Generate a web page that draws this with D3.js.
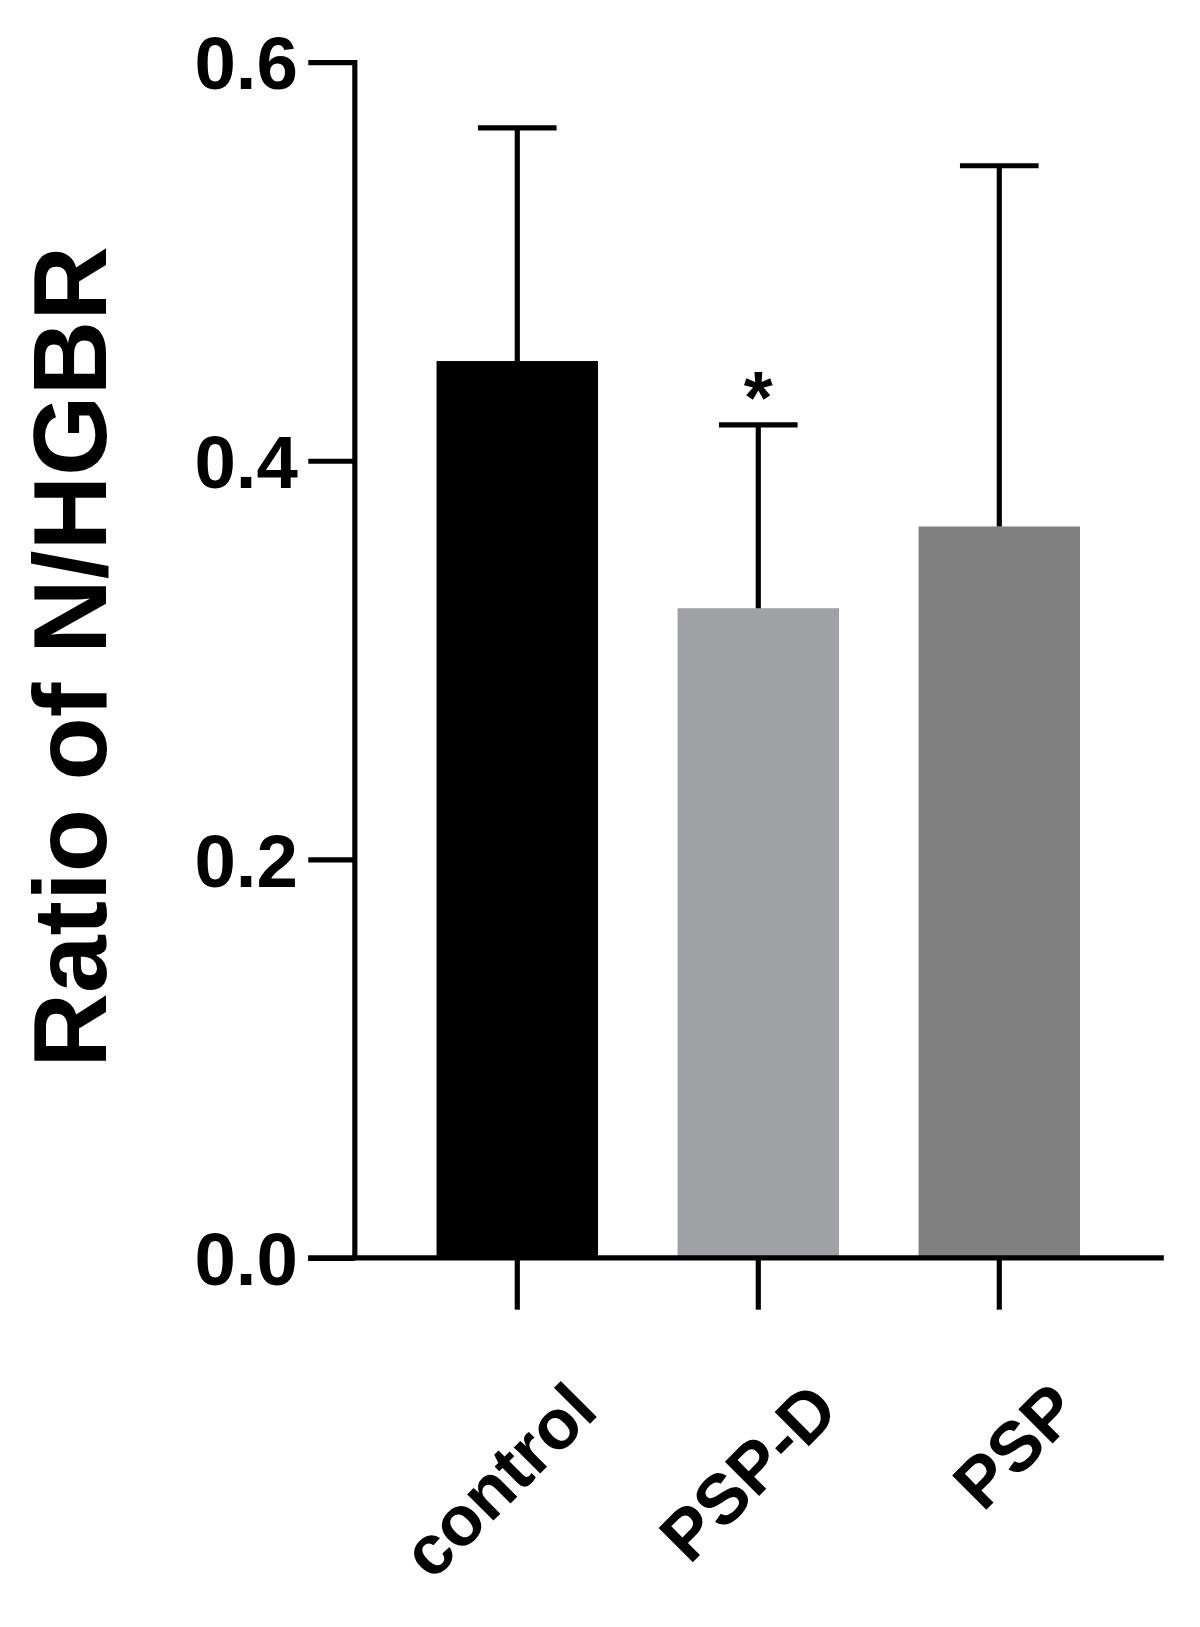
<!DOCTYPE html>
<html><head><meta charset="utf-8">
<script src="https://cdn.jsdelivr.net/npm/d3@7"></script>
<style>body{margin:0;background:#fff}</style></head>
<body><script>
// values
var groups = ["control", "PSP-D", "PSP"];
var means = [0.450, 0.326, 0.367];
var errTops = [0.567, 0.418, 0.548];
var colors = ["#000000", "#a0a1a5", "#808080"];
var yTicks = [0.0, 0.2, 0.4, 0.6];

var svg = d3.select("body").append("svg").attr("width", 1200).attr("height", 1627)
  .style("font-family", "Liberation Sans, Arial, sans-serif").style("font-weight", "bold");
var g = svg.append("g").attr("transform", "scale(1.0345)");

var y = d3.scaleLinear().domain([0, 0.6]).range([1216, 60]);
var x = d3.scaleBand().domain(groups).range([422, 1044]).paddingInner(0.33).paddingOuter(0);

g.selectAll("rect.bar").data(groups).enter().append("rect")
  .attr("x", function(d) { return x(d); })
  .attr("width", x.bandwidth())
  .attr("y", function(d, i) { return y(means[i]); })
  .attr("height", function(d, i) { return y(0) - y(means[i]); })
  .attr("fill", function(d, i) { return colors[i]; });

// error bars
groups.forEach(function(d, i) {
  var cx = x(d) + x.bandwidth() / 2;
  g.append("line").attr("x1", cx).attr("x2", cx).attr("y1", y(means[i])).attr("y2", y(errTops[i]))
    .attr("stroke", "#000").attr("stroke-width", 5);
  g.append("line").attr("x1", cx - 38).attr("x2", cx + 38).attr("y1", y(errTops[i])).attr("y2", y(errTops[i]))
    .attr("stroke", "#000").attr("stroke-width", 5);
});

g.append("text").attr("x", x("PSP-D") + x.bandwidth() / 2).attr("y", y(0.418) - 2)
  .attr("text-anchor", "middle").attr("font-size", 72).text("*");

// y axis
var yAxis = g.append("g").attr("transform", "translate(343,0)")
  .call(d3.axisLeft(y).tickValues(yTicks).tickFormat(d3.format(".1f")).tickSize(45).tickPadding(10));
yAxis.select(".domain").attr("stroke-width", 5).attr("d", "M0," + (y(0.6) - 2) + "V" + y(0));
yAxis.selectAll(".tick line").attr("stroke-width", 5);
yAxis.selectAll(".tick text").attr("font-size", 72).attr("font-weight", 900).attr("dy", "0.36em")
  .style("font-family", "Liberation Sans, Arial, sans-serif");

// x axis
var xAxis = g.append("g").attr("transform", "translate(0," + y(0) + ")")
  .call(d3.axisBottom(x).tickSize(50).tickPadding(0));
xAxis.select(".domain").attr("stroke-width", 5).attr("d", "M298,0H1125");
xAxis.selectAll(".tick line").attr("stroke-width", 5);
xAxis.selectAll(".tick text").attr("font-size", 68).attr("font-weight", 900)
  .style("font-family", "Liberation Sans, Arial, sans-serif")
  .attr("text-anchor", "end").attr("dy", 0)
  .attr("transform", "translate(45,115) rotate(-45)");

g.append("text").attr("transform", "translate(102,635) rotate(-90)")
  .attr("text-anchor", "middle").attr("font-size", 100).attr("font-weight", 900).text("Ratio of N/HGBR");
</script></body></html>
